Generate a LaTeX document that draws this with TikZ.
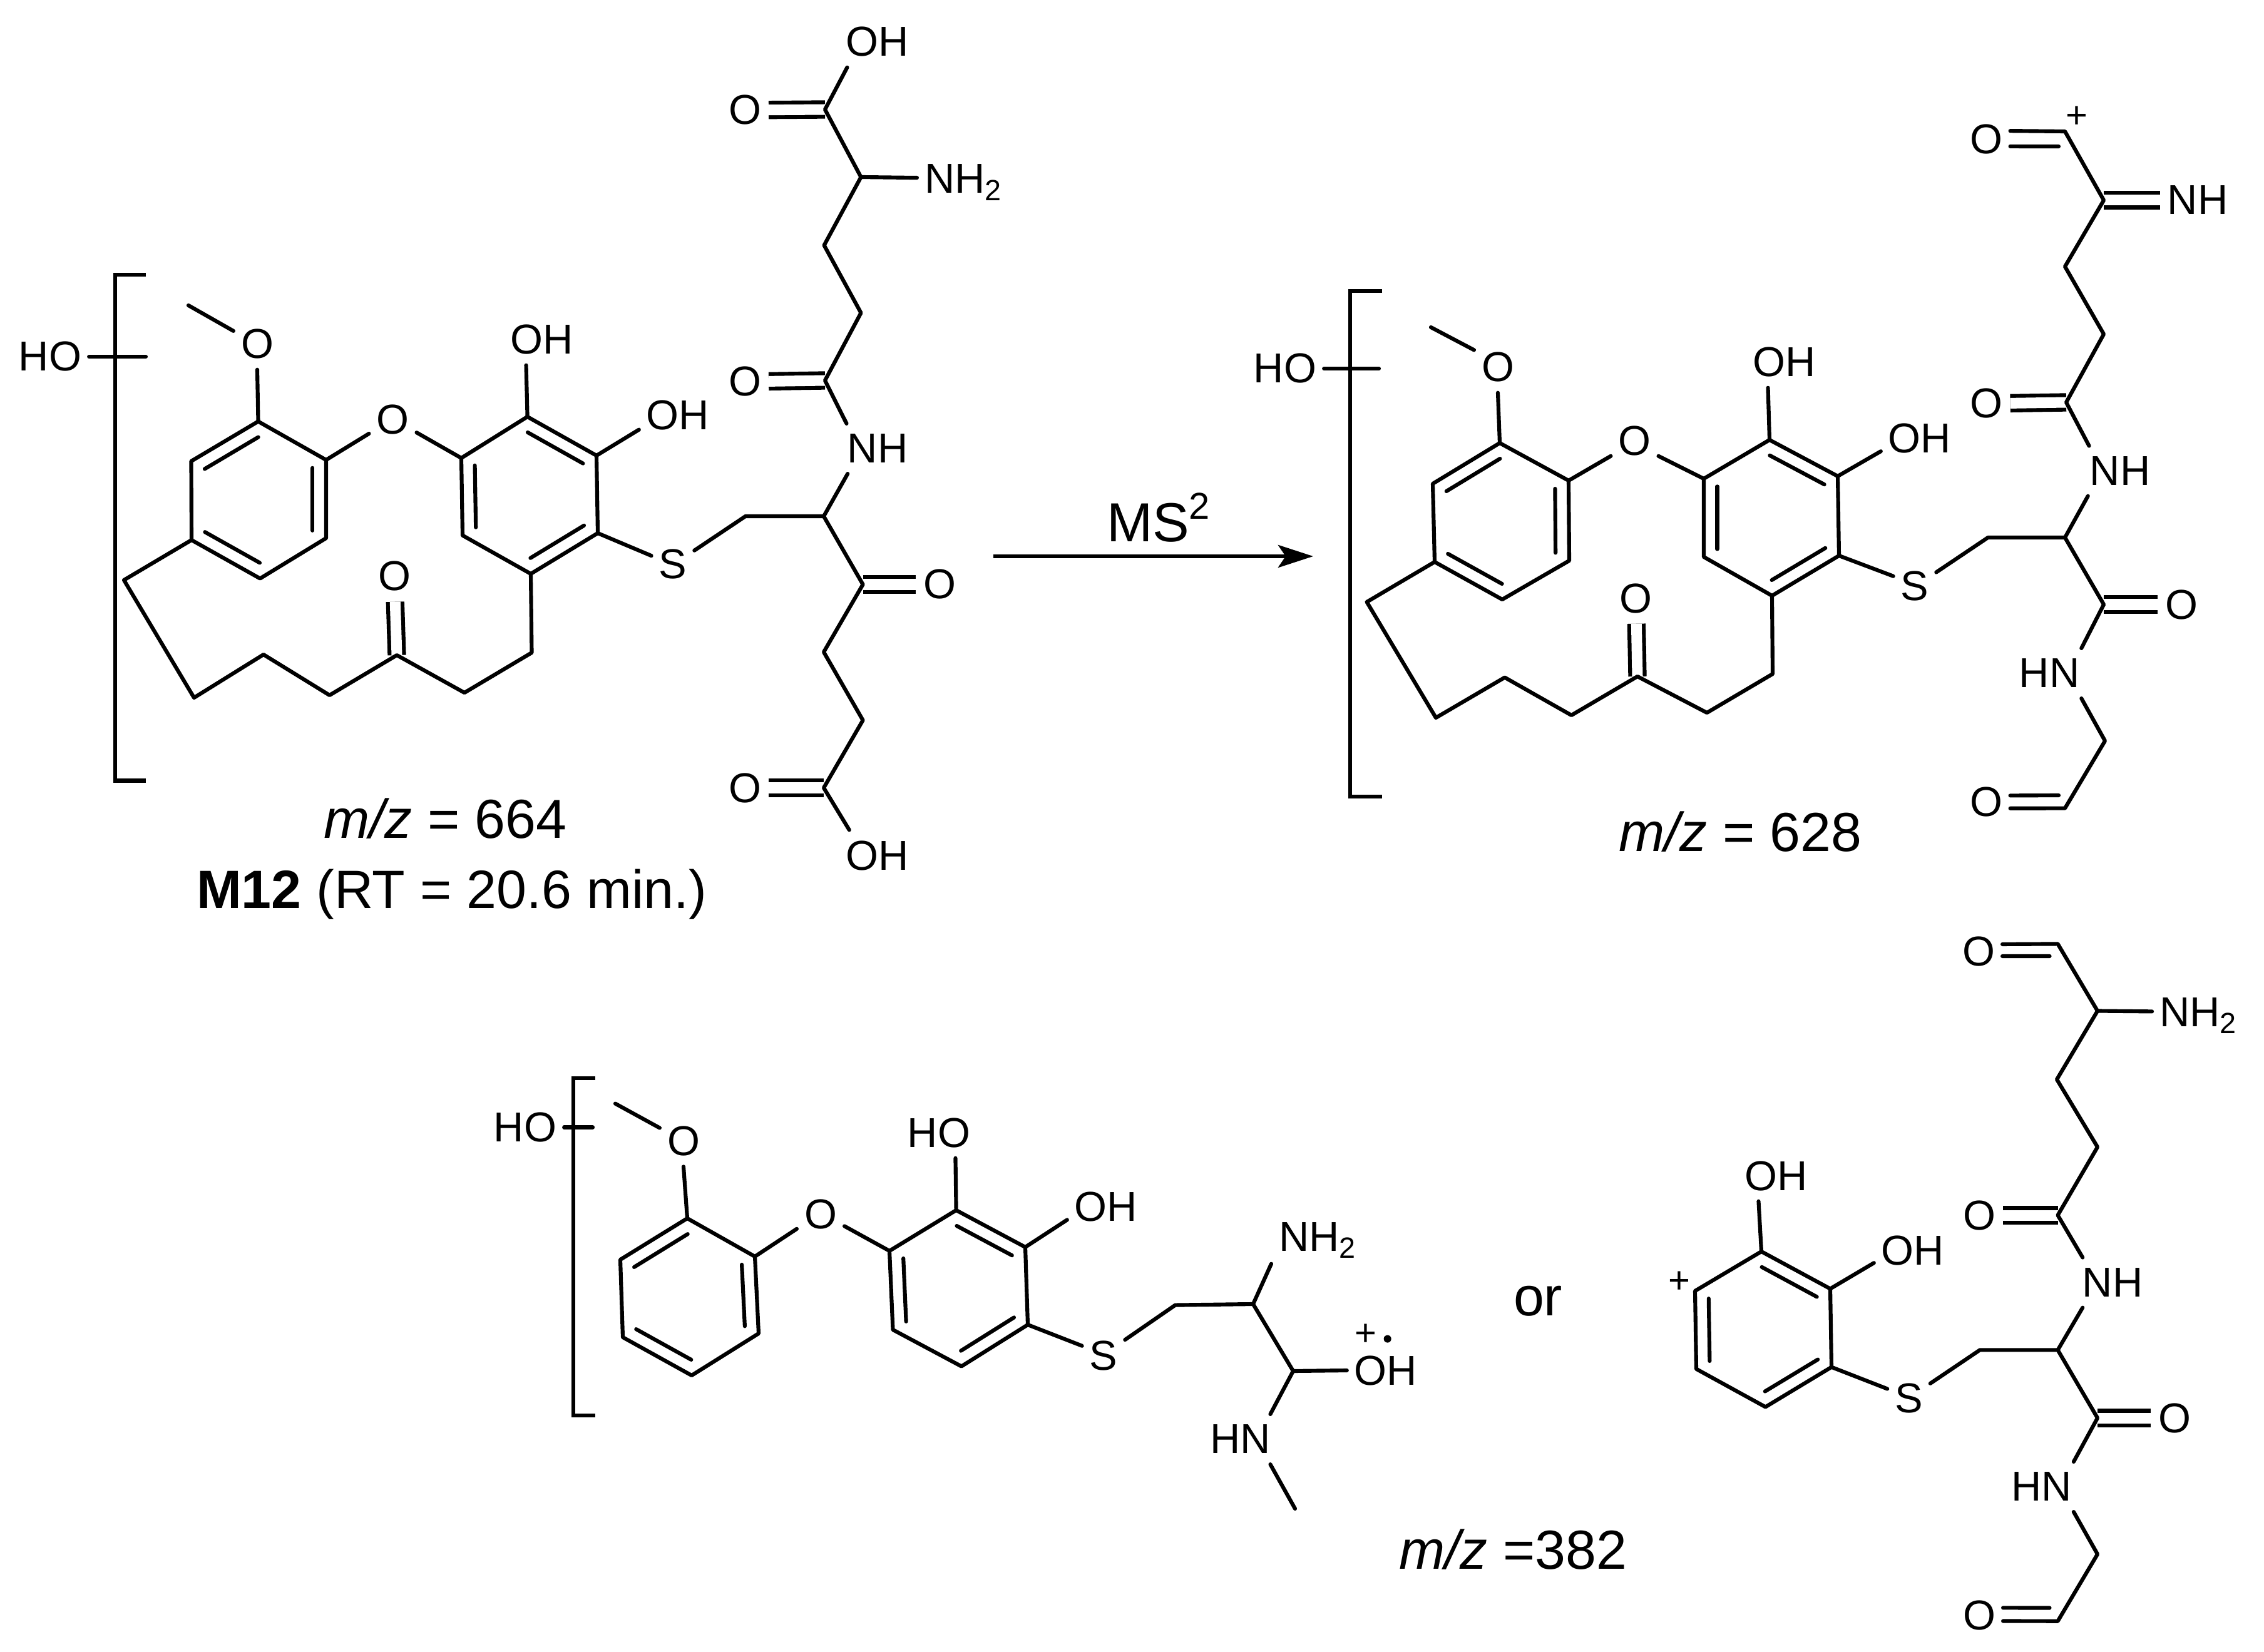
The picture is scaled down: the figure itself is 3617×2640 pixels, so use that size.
\documentclass[tikz,border=0pt]{standalone}
\usepackage{fontspec}
\setmainfont{Liberation Sans}
\usetikzlibrary{calc,arrows.meta}
\tikzset{
	atomlab/.style={inner xsep=.9mm,inner ysep=1.4mm,font=\fontsize{19}{21}\selectfont},
	atomsub/.style={atomlab,anchor=base west},
	captext/.style={anchor=base west,inner sep=0,font=\fontsize{25}{27}\selectfont},
	chargelab/.style={inner sep=0,font=\fontsize{17}{18}\selectfont},
	raddot/.style={circle,fill,inner sep=0,minimum size=.12cm},
	dblbond/.style={double,double distance=.17cm,line cap=butt},
	bracketline/.style={line cap=butt,line join=miter}
}
\newcommand{\ringbond}[3]{\draw ($(#1)!.2!(#3)$) -- ($(#2)!.2!(#3)$);}
\begin{document}
\begin{tikzpicture}[x=.01cm,y=-.01cm,line width=1.75pt,line cap=round,line join=round]
	\useasboundingbox (0,0) rectangle (3617,2640);
	\draw[bracketline] (233,439) -- (184,439) -- (184,1247.5) -- (233,1247.5);
	\node[atomlab] (hoA) at (80,570) {HO};
	\coordinate (hoAend) at (233,570);
	\draw (hoA.east) -- (hoAend);
	\coordinate (meA) at (301,488);
	\node[atomlab] (omeA) at (411,550) {O};
	\coordinate (a1) at (412.5,673.5);
	\coordinate (a2) at (521,735);
	\coordinate (a3) at (521,860);
	\coordinate (a4) at (415.5,924.5);
	\coordinate (a5) at (306,863);
	\coordinate (a6) at (305.5,737);
	\coordinate (ra) at (413,799);
	\draw (a1) -- (a2) -- (a3) -- (a4) -- (a5) -- (a6) -- (a1);
	\ringbond{a1}{a6}{ra}
	\ringbond{a2}{a3}{ra}
	\ringbond{a4}{a5}{ra}
	\draw (meA) -- (omeA.151);
	\draw (omeA.south) -- (a1);
	\node[atomlab] (oethA) at (627.5,671) {O};
	\coordinate (b1) at (737,732);
	\coordinate (b2) at (842.6,666);
	\coordinate (b3) at (953,728);
	\coordinate (b4) at (955,852);
	\coordinate (b5) at (848,917);
	\coordinate (b6) at (739,855.6);
	\coordinate (rb) at (845,791);
	\draw (b1) -- (b2) -- (b3) -- (b4) -- (b5) -- (b6) -- (b1);
	\ringbond{b1}{b6}{rb}
	\ringbond{b2}{b3}{rb}
	\ringbond{b4}{b5}{rb}
	\draw (a2) -- (oethA.210);
	\draw (oethA.332) -- (b1);
	\node[atomlab] (ohA) at (866,543) {OH};
	\node[atomlab] (ohB) at (1083,664) {OH};
	\draw (b2) -- (ohA.238);
	\draw (b3) -- (ohB.200);
	\node[atomlab] (sA) at (1075,902) {S};
	\coordinate (l1) at (198,927);
	\coordinate (l2) at (310,1115);
	\coordinate (l3) at (421,1046);
	\coordinate (l4) at (526.5,1111);
	\coordinate (l5) at (634,1047);
	\coordinate (l6) at (742,1107);
	\coordinate (l7) at (849.5,1043);
	\node[atomlab] (okA) at (630,921) {O};
	\draw[dblbond] (l5) -- (okA);
	\draw (a5) -- (l1) -- (l2) -- (l3) -- (l4) -- (l5) -- (l6) -- (l7) -- (b5);
	\coordinate (s1) at (1191,825);
	\coordinate (s2) at (1316,825);
	\coordinate (s3) at (1378.6,934);
	\coordinate (s4) at (1316,1042);
	\coordinate (s5) at (1378.6,1151);
	\coordinate (s6) at (1316,1259);
	\node[atomlab] (o3A) at (1501,934) {O};
	\node[atomlab] (o4A) at (1190,1259) {O};
	\node[atomlab] (ohC) at (1402,1367) {OH};
	\draw[dblbond] (s3) -- (o3A);
	\draw[dblbond] (s6) -- (o4A);
	\draw (b4) -- (sA.158);
	\draw (sA.33) -- (s1) -- (s2) -- (s3) -- (s4) -- (s5) -- (s6) -- (ohC.138);
	\node[atomlab] (nhA) at (1402,717) {NH};
	\coordinate (u1) at (1318,608);
	\coordinate (u2) at (1375.5,500);
	\coordinate (u3) at (1316.6,392);
	\coordinate (u4) at (1375.5,283);
	\coordinate (u5) at (1318,175);
	\node[atomlab] (o5A) at (1190,610) {O};
	\node[atomlab] (o6A) at (1190,176) {O};
	\node[atomlab] (ohD) at (1402,67) {OH};
	\node[atomsub] (nh2A) at (1465,309) {NH\textsubscript{2}};
	\draw[dblbond] (u1) -- (o5A);
	\draw[dblbond] (u5) -- (o6A);
	\draw (s2) -- (nhA.220);
	\draw (nhA.141) -- (u1) -- (u2) -- (u3) -- (u4) -- (u5) -- (ohD.220);
	\draw (u4) -- (nh2A.174);
	\node[captext] (mzA) at (514,1339) {\textit{m/z} = 664};
	\node[captext,font=\fontsize{24.5}{27}\selectfont] (nameA) at (311,1451.5) {\textbf{M12} (RT = 20.6 min.)};
	\coordinate (arrowstart) at (1587,889);
	\coordinate (arrowend) at (2098,889);
	\draw[-{Stealth[length=.56cm,width=.36cm,inset=.12cm]},line cap=butt] (arrowstart) -- (arrowend);
	\node[captext] (msA) at (1765,866) {MS\raisebox{.42em}{\fontsize{17}{18}\selectfont 2}};
	\draw[bracketline] (2208,465) -- (2157,465) -- (2157,1273) -- (2208,1273);
	\node[atomlab] (hoE) at (2053,589) {HO};
	\coordinate (hoEend) at (2203,589);
	\draw (hoE.east) -- (hoEend);
	\coordinate (meE) at (2286,523);
	\node[atomlab] (omeE) at (2393,587) {O};
	\coordinate (c1) at (2396,708);
	\coordinate (c2) at (2506,768);
	\coordinate (c3) at (2507,896);
	\coordinate (c4) at (2400,958);
	\coordinate (c5) at (2292,898);
	\coordinate (c6) at (2289,773);
	\coordinate (rc) at (2398,833);
	\draw (c1) -- (c2) -- (c3) -- (c4) -- (c5) -- (c6) -- (c1);
	\ringbond{c1}{c6}{rc}
	\ringbond{c2}{c3}{rc}
	\ringbond{c4}{c5}{rc}
	\draw (meE) -- (omeE.144);
	\draw (omeE.south) -- (c1);
	\node[atomlab] (oethE) at (2611.5,705) {O};
	\coordinate (d1) at (2722,765);
	\coordinate (d2) at (2827,703);
	\coordinate (d3) at (2936,761);
	\coordinate (d4) at (2938,888);
	\coordinate (d5) at (2831,952);
	\coordinate (d6) at (2722,890);
	\coordinate (rd) at (2829,827);
	\draw (d1) -- (d2) -- (d3) -- (d4) -- (d5) -- (d6) -- (d1);
	\ringbond{d1}{d6}{rd}
	\ringbond{d2}{d3}{rd}
	\ringbond{d4}{d5}{rd}
	\draw (c2) -- (oethE.212);
	\draw (oethE.328) -- (d1);
	\node[atomlab] (ohE) at (2851,579) {OH};
	\node[atomlab] (ohF) at (3067,701) {OH};
	\draw (d2) -- (ohE.237);
	\draw (d3) -- (ohF.198);
	\node[atomlab] (sE) at (3059,936) {S};
	\coordinate (m1) at (2183.6,962);
	\coordinate (m2) at (2294,1147);
	\coordinate (m3) at (2404,1082.6);
	\coordinate (m4) at (2510.5,1143);
	\coordinate (m5) at (2616,1081);
	\coordinate (m6) at (2727,1139);
	\coordinate (m7) at (2832,1077);
	\node[atomlab] (okE) at (2613.6,956) {O};
	\draw[dblbond] (m5) -- (okE);
	\draw (c5) -- (m1) -- (m2) -- (m3) -- (m4) -- (m5) -- (m6) -- (m7) -- (d5);
	\coordinate (t1) at (3176,859);
	\coordinate (t2) at (3299,859);
	\coordinate (t3) at (3361,966);
	\coordinate (t4) at (3363,1184);
	\coordinate (t5) at (3299,1291.6);
	\coordinate (t5b) at (3289,1271);
	\node[atomlab] (o3E) at (3485,966) {O};
	\node[atomlab] (hnE) at (3274,1076) {HN};
	\node[atomlab] (o4E) at (3173.5,1281.6) {O};
	\draw[dblbond] (t3) -- (o3E);
	\draw (d4) -- (sE.156);
	\draw (sE.32) -- (t1) -- (t2) -- (t3) -- (hnE.38);
	\draw (hnE.322) -- (t4) -- (t5) -- (o4E.345);
	\draw (o4E.15) -- (t5b);
	\node[atomlab] (nhE) at (3387,752.6) {NH};
	\coordinate (v1) at (3301,643);
	\coordinate (v2) at (3361,534);
	\coordinate (v3) at (3299,426);
	\coordinate (v4) at (3361,320);
	\coordinate (v5) at (3299,210);
	\coordinate (v5b) at (3289,234);
	\node[atomlab] (o5E) at (3173.5,645) {O};
	\node[atomlab] (o6E) at (3173.5,223) {O};
	\node[atomlab] (nhF) at (3511,320) {NH};
	\node[chargelab] (plusE) at (3318,187) {+};
	\draw[dblbond] (v1) -- (o5E);
	\draw[dblbond] (v4) -- (nhF);
	\draw (t2) -- (nhE.218);
	\draw (nhE.141) -- (v1) -- (v2) -- (v3) -- (v4) -- (v5) -- (o6E.20);
	\draw (o6E.344) -- (v5b);
	\node[captext] (mzE) at (2583,1360) {\textit{m/z} = 628};
	\draw[bracketline] (951,1722.6) -- (916,1722.6) -- (916,2262) -- (951,2262);
	\node[atomlab] (hoK) at (839,1801.5) {HO};
	\coordinate (hoKend) at (947,1801.5);
	\draw (hoK.east) -- (hoKend);
	\coordinate (meK) at (983,1763.6);
	\node[atomlab] (omeK) at (1092,1823.6) {O};
	\coordinate (e1) at (1098,1947);
	\coordinate (e2) at (1206,2008);
	\coordinate (e3) at (1212,2131);
	\coordinate (e4) at (1105,2198);
	\coordinate (e5) at (995,2137);
	\coordinate (e6) at (991,2013);
	\coordinate (re) at (1101.5,2072.5);
	\draw (e1) -- (e2) -- (e3) -- (e4) -- (e5) -- (e6) -- (e1);
	\ringbond{e1}{e6}{re}
	\ringbond{e2}{e3}{re}
	\ringbond{e4}{e5}{re}
	\draw (meK) -- (omeK.151);
	\draw (omeK.south) -- (e1);
	\node[atomlab] (oethK) at (1311,1940) {O};
	\coordinate (f1) at (1421,1999);
	\coordinate (f2) at (1527.6,1934);
	\coordinate (f3) at (1638,1993);
	\coordinate (f4) at (1642,2117);
	\coordinate (f5) at (1536,2183.5);
	\coordinate (f6) at (1426.5,2125);
	\coordinate (rf) at (1532,2059);
	\draw (f1) -- (f2) -- (f3) -- (f4) -- (f5) -- (f6) -- (f1);
	\ringbond{f1}{f6}{rf}
	\ringbond{f2}{f3}{rf}
	\ringbond{f4}{f5}{rf}
	\draw (e2) -- (oethK.212);
	\draw (oethK.333) -- (f1);
	\node[atomlab] (hoL) at (1500,1810) {HO};
	\node[atomlab] (ohL) at (1767,1928) {OH};
	\draw (f2) -- (hoL.303);
	\draw (f3) -- (ohL.199);
	\node[atomlab] (sK) at (1763,2166) {S};
	\coordinate (w1) at (1877.6,2085.6);
	\coordinate (w2) at (2002,2084);
	\coordinate (w3) at (2066,2191);
	\coordinate (w4) at (2069,2411);
	\node[atomsub] (nh2K) at (2031,1999) {NH\textsubscript{2}};
	\node[atomlab] (ohM) at (2214,2190) {OH};
	\node[atomlab] (hnK) at (1981.7,2300) {HN};
	\node[chargelab] (plusK) at (2181.6,2133) {+};
	\node[raddot] (dotK) at (2216.7,2139.6) {};
	\draw (f4) -- (sK.156);
	\draw (sK.36) -- (w1) -- (w2) -- (nh2K.207);
	\draw (w2) -- (w3) -- (ohM.west);
	\draw (w3) -- (hnK.40);
	\draw (hnK.320) -- (w4);
	\node[captext] (orK) at (2415,2102) {or};
	\node[captext] (mzK) at (2232,2507) {\textit{m/z} =382};
	\coordinate (g1) at (2814,2000);
	\coordinate (g2) at (2924,2059.5);
	\coordinate (g3) at (2926,2184.7);
	\coordinate (g4) at (2820.5,2248.4);
	\coordinate (g5) at (2710,2187.7);
	\coordinate (g6) at (2708,2063);
	\coordinate (rg) at (2817,2124);
	\draw (g1) -- (g2) -- (g3) -- (g4) -- (g5) -- (g6) -- (g1);
	\ringbond{g1}{g2}{rg}
	\ringbond{g3}{g4}{rg}
	\ringbond{g5}{g6}{rg}
	\node[atomlab] (ohP) at (2838,1879) {OH};
	\node[atomlab] (ohQ) at (3056,1998) {OH};
	\node[chargelab] (plusP) at (2683,2049.6) {+};
	\draw (g1) -- (ohP.235);
	\draw (g2) -- (ohQ.198);
	\node[atomlab] (sP) at (3049.5,2234) {S};
	\coordinate (x1) at (3163,2157.4);
	\coordinate (x2) at (3287.5,2157.4);
	\coordinate (x3) at (3351,2266);
	\coordinate (x4) at (3351,2483.7);
	\coordinate (x5) at (3287.5,2590.7);
	\coordinate (x5b) at (3274.5,2569.5);
	\node[atomlab] (o3P) at (3474,2266) {O};
	\node[atomlab] (hnP) at (3261.6,2376) {HN};
	\node[atomlab] (o4P) at (3162,2581) {O};
	\draw[dblbond] (x3) -- (o3P);
	\draw (g3) -- (sP.157);
	\draw (sP.34) -- (x1) -- (x2) -- (x3) -- (hnP.38);
	\draw (hnP.322) -- (x4) -- (x5) -- (o4P.346);
	\draw (o4P.17) -- (x5b);
	\node[atomlab] (nhP) at (3375,2049.6) {NH};
	\coordinate (y1) at (3287.5,1942);
	\coordinate (y2) at (3351,1833);
	\coordinate (y3) at (3286,1725);
	\coordinate (y4) at (3351,1615.5);
	\coordinate (y5) at (3287.5,1508.4);
	\coordinate (y5b) at (3274.5,1528);
	\node[atomlab] (o5P) at (3162,1942) {O};
	\node[atomlab] (o6P) at (3161,1520.6) {O};
	\node[atomsub] (nh2P) at (3438,1640) {NH\textsubscript{2}};
	\draw[dblbond] (y1) -- (o5P);
	\draw (x2) -- (nhP.220);
	\draw (nhP.140) -- (y1) -- (y2) -- (y3) -- (y4) -- (y5) -- (o6P.17);
	\draw (y4) -- (nh2P.175);
	\draw (o6P.349) -- (y5b);
\end{tikzpicture}
\end{document}
